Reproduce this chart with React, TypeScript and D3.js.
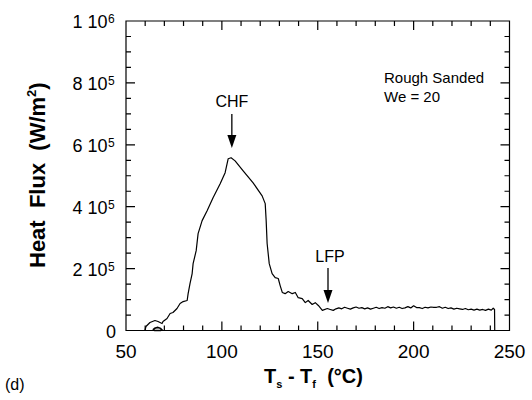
import React from "react";
import * as d3 from "d3";

// ---- data ----
const tempDiff: number[] = [
  59.9, 60.4, 62.5, 65.1, 66.7, 68.8, 69.3, 71.4, 73.0, 74.5, 76.6, 78.2, 79.8, 81.9,
  82.4, 83.4, 84.5, 85.0, 86.6, 87.6, 89.7, 92.3, 95.4, 99.1, 101.7, 103.3, 104.8,
  106.9, 111.1, 116.3, 121.0, 122.6, 123.1, 123.6, 124.7, 126.2, 127.8, 129.4, 130.4,
  131.5, 133.0, 134.6, 136.7, 138.3, 139.8, 141.9, 143.5, 145.0, 147.1, 148.7, 150.3,
  152.4, 155.0, 156.5, 158.1, 159.5, 161.0, 162.5, 164.0, 165.5, 167.0, 168.5, 170.0,
  171.5, 173.0, 174.5, 176.0, 177.5, 179.0, 180.5, 182.0, 183.5, 185.0, 186.5, 188.0,
  189.5, 191.0, 192.5, 194.0, 195.5, 197.0, 198.5, 200.0, 201.5, 203.0, 204.5, 206.0,
  207.5, 209.0, 210.5, 212.0, 213.5, 215.0, 216.5, 218.0, 219.5, 221.0, 222.5, 224.0,
  225.5, 227.0, 228.5, 230.0, 231.5, 233.0, 234.5, 236.0, 237.5, 239.0, 240.5, 241.5,
  242.2, 242.3,
];
// heat flux in units of 1e4 W/m^2
const heatFlux: number[] = [
  0, 1.29, 2.58, 3.23, 2.9, 2.26, 2.9, 3.87, 5.48, 5.81, 7.1, 8.71, 9.35, 9.68,
  11.9, 15.2, 18.4, 21.6, 25.8, 31.3, 35.5, 38.7, 42.9, 47.4, 51.0, 55.5, 55.8,
  54.8, 51.6, 47.7, 43.5, 41.0, 35.5, 28.1, 21.6, 18.4, 17.1, 16.8, 14.5,
  12.3, 11.9, 12.6, 11.9, 12.3, 10.6, 10.3, 9.0, 9.7, 8.4, 9.0, 8.1,
  6.5, 7.1, 6.8, 6.5, 7.0, 7.3, 7.0, 7.5, 7.2, 6.9, 7.3, 7.6,
  7.2, 7.4, 7.0, 7.3, 6.9, 7.2, 7.5, 7.1, 7.4, 7.2, 7.7, 7.3,
  7.6, 7.2, 7.5, 7.1, 7.3, 7.7, 7.3, 8.0, 7.4, 7.4, 7.1, 7.5,
  7.3, 7.6, 7.5, 7.5, 7.7, 7.2, 7.5, 7.1, 7.3, 6.9, 7.2, 7.0,
  6.8, 7.1, 6.7, 6.9, 6.6, 6.9, 6.6, 6.8, 6.5, 6.9, 6.6, 7.2,
  6.8, 0,
].map((v) => v * 1e4);

// small loop traced at the bottom near the start
const loopTemp: number[] = [64.0, 65.0, 66.5, 68.0, 68.8, 68.0, 66.5, 65.0, 64.0];
const loopFlux: number[] = [0.2, 0.7, 1.0, 0.7, 0.2, 0.0, 0.0, 0.0, 0.2].map((v) => v * 1e4);

const xMajorTicks = [50, 100, 150, 200, 250];
const xTickLabels = ["50", "100", "150", "200", "250"];
const yMajorTicks = [0, 2e5, 4e5, 6e5, 8e5, 1e6];
const yTickMantissas = ["0", "2", "4", "6", "8", "1"];
const yTickExponents = ["", "5", "5", "5", "5", "6"];

const FONT = "'Liberation Sans', Arial, Helvetica, sans-serif";

export default function App() {
  const W = 532, H = 400;
  const left = 126, right = 509.5, top = 21, bottom = 330.5;
  const x = d3.scaleLinear().domain([50, 250]).range([left, right]);
  const y = d3.scaleLinear().domain([0, 1e6]).range([bottom, top]);

  const line = d3
    .line<number>()
    .x((_, i) => x(tempDiff[i]))
    .y((d) => y(d));
  const loopLine = d3
    .line<number>()
    .x((_, i) => x(loopTemp[i]))
    .y((d) => y(d));

  const xMinor = d3.range(50, 251, 10);
  const yMinor = d3.range(0, 1e6 + 1, 5e4);

  let tickPath = `M${left},${top}H${right}V${bottom}H${left}Z`;
  xMinor.forEach((v) => {
    const len = v % 50 === 0 ? 9 : 5;
    const px = x(v);
    tickPath += `M${px},${bottom}V${bottom - len}M${px},${top}V${top + len}`;
  });
  yMinor.forEach((v) => {
    const len = Math.round(v) % 200000 === 0 ? 9 : 5;
    const py = y(v);
    tickPath += `M${left},${py}H${left + len}M${right},${py}H${right - len}`;
  });

  const arrow = (cx: number, y0: number, y1: number) => (
    <g>
      <path d={`M${cx},${y0}V${y1 - 8}`} stroke="#000" strokeWidth={1.3} fill="none" />
      <path d={`M${cx - 4.5},${y1 - 13} L${cx + 4.5},${y1 - 13} L${cx},${y1} Z`} fill="#000" />
    </g>
  );

  const pre = { whiteSpace: "pre" as const };

  return (
    <svg
      width={W}
      height={H}
      style={{ position: "absolute", left: 0, top: 0, background: "#fff" }}
      fontFamily={FONT}
    >
      <path d={tickPath} fill="none" stroke="#000" strokeWidth={1.2} />

      {/* x tick labels */}
      {xMajorTicks.map((v, i) => (
        <text key={"xl" + v} x={x(v)} y={358} fontSize={19} textAnchor="middle">
          {xTickLabels[i]}
        </text>
      ))}
      {/* y tick labels */}
      {yMajorTicks.map((v, i) => (
        <text key={"yl" + v} x={yTickExponents[i] ? 107.5 : 116} y={y(v) + 7} fontSize={18} textAnchor="end">
          {yTickExponents[i] ? `${yTickMantissas[i]} 10` : yTickMantissas[i]}
        </text>
      ))}
      {yMajorTicks.map((v, i) =>
        yTickExponents[i] ? (
          <text key={"ye" + v} x={108} y={y(v) + 2} fontSize={12}>
            {yTickExponents[i]}
          </text>
        ) : null
      )}

      {/* axis titles */}
      <text x={264} y={383} fontSize={20} fontWeight="bold" style={pre}>
        T<tspan fontSize={11} dy={5}>s</tspan>
        <tspan dy={-5}>{" - T"}</tspan>
        <tspan fontSize={11} dy={5}>f</tspan>
        <tspan dy={-5}>{"  (°C)"}</tspan>
      </text>
      <text transform="translate(45,268) rotate(-90)" fontSize={22} fontWeight="bold" textAnchor="start" style={pre}>
        {"Heat  Flux  (W/m"}<tspan fontSize={13} dy={-9}>2</tspan>
        <tspan dy={9}>)</tspan>
      </text>
      <text x={5} y={390} fontSize={16}>(d)</text>

      {/* curve */}
      <path d={line(heatFlux) || ""} fill="none" stroke="#000" strokeWidth={1.2} strokeLinejoin="round" />
      <path d={loopLine(loopFlux) || ""} fill="none" stroke="#000" strokeWidth={1.6} />

      {/* annotations */}
      <text x={x(105.2)} y={107} fontSize={16} textAnchor="middle">CHF</text>
      {arrow(x(105.2), 114, 148)}
      <text x={330} y={262} fontSize={16} textAnchor="middle">LFP</text>
      {arrow(328, 268, 303)}
      <text x={384} y={83} fontSize={15}>Rough Sanded</text>
      <text x={384} y={102} fontSize={15}>We = 20</text>
    </svg>
  );
}
